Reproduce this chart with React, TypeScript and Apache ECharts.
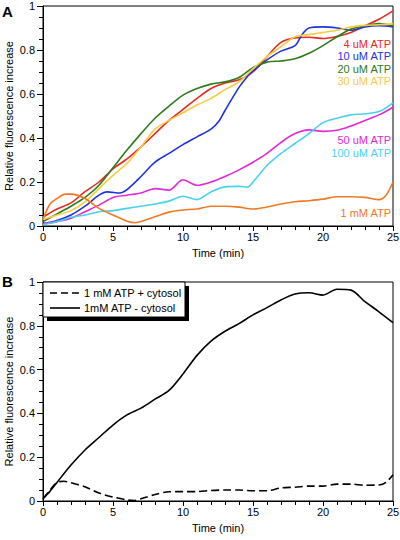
import React, { useEffect, useRef } from "react";
import * as echarts from "echarts";

// Panel A: relative fluorescence increase vs time (min)
const atp4uM: number[][] = [[0,0.04],[1,0.077],[2,0.105],[3,0.156],[4,0.2],[5,0.26],[6,0.305],[7,0.36],[8,0.42],[9,0.48],[10,0.53],[11,0.58],[12,0.625],[13,0.65],[14,0.665],[15,0.7],[16,0.77],[17,0.835],[18,0.855],[19,0.858],[20,0.852],[21,0.862],[22,0.88],[23,0.91],[24,0.94],[25,0.978]];
const atp10uM: number[][] = [[0,0.01],[1,0.025],[2,0.05],[3,0.09],[4,0.14],[4.6,0.155],[5.5,0.15],[6,0.165],[7,0.225],[8,0.29],[9,0.33],[10,0.37],[11,0.405],[12,0.44],[12.6,0.48],[13,0.525],[14,0.63],[14.6,0.68],[15,0.705],[16,0.755],[17,0.795],[18,0.82],[18.5,0.87],[19,0.9],[20,0.905],[21,0.9],[22,0.89],[23,0.905],[24,0.91],[25,0.905]];
const atp20uM: number[][] = [[0,0.02],[1,0.055],[2,0.09],[3,0.13],[4,0.185],[5,0.265],[6,0.345],[7,0.42],[8,0.49],[9,0.545],[10,0.595],[11,0.625],[12,0.645],[13,0.655],[14,0.675],[15,0.72],[16,0.745],[17,0.75],[18,0.76],[19,0.785],[20,0.82],[21,0.86],[22,0.895],[23,0.91],[24,0.92],[25,0.91]];
const atp30uM: number[][] = [[0,0.03],[1,0.05],[2,0.07],[3,0.11],[4,0.17],[5,0.23],[6,0.285],[7,0.36],[8,0.44],[9,0.48],[10,0.515],[11,0.55],[12,0.58],[13,0.62],[14,0.655],[15,0.715],[16,0.77],[17,0.815],[18,0.86],[19,0.87],[20,0.88],[21,0.89],[22,0.905],[23,0.912],[24,0.915],[25,0.92]];
const atp50uM: number[][] = [[0,0.01],[1,0.02],[2,0.035],[3,0.065],[4,0.095],[5,0.13],[6,0.14],[7,0.15],[8,0.17],[9,0.163],[10,0.21],[11,0.185],[12,0.2],[13,0.225],[14,0.255],[15,0.29],[16,0.33],[17,0.38],[18,0.42],[19,0.437],[20,0.43],[21,0.435],[22,0.455],[23,0.48],[24,0.505],[25,0.54]];
const atp100uM: number[][] = [[0,0.005],[1,0.02],[2,0.04],[3,0.05],[4,0.065],[5,0.07],[6,0.08],[7,0.09],[8,0.1],[9,0.113],[10,0.135],[11,0.12],[12,0.155],[13,0.178],[14,0.18],[14.6,0.177],[15,0.2],[16,0.275],[17,0.33],[18,0.375],[19,0.42],[20,0.47],[21,0.49],[22,0.505],[23,0.51],[24,0.52],[25,0.56]];
const atp1mM: number[][] = [[0,0.03],[0.5,0.1],[1,0.125],[1.6,0.145],[2,0.145],[3,0.125],[4,0.08],[5,0.05],[6,0.022],[6.6,0.015],[7,0.02],[8,0.042],[9,0.063],[10,0.073],[11,0.077],[12,0.09],[13,0.09],[14,0.086],[15,0.077],[16,0.086],[17,0.1],[18,0.11],[19,0.115],[20,0.122],[21,0.133],[22,0.133],[23,0.13],[24,0.12],[24.5,0.14],[25,0.2]];

// Panel B
const plusCytosol: number[][] = [[0,0.01],[0.5,0.05],[1,0.085],[1.5,0.09],[2,0.083],[3,0.065],[4,0.036],[5,0.018],[6,0.005],[6.5,0.002],[7,0.01],[8,0.03],[9,0.042],[10,0.043],[11,0.043],[12,0.048],[13,0.05],[14,0.05],[15,0.047],[16,0.047],[17,0.06],[18,0.063],[19,0.068],[20,0.068],[21,0.077],[22,0.077],[23,0.072],[24,0.073],[24.5,0.085],[25,0.12]];
const minusCytosol: number[][] = [[0,0.01],[0.5,0.045],[1,0.085],[2,0.164],[3,0.233],[4,0.29],[5,0.347],[6,0.393],[7,0.424],[8,0.465],[9,0.505],[10,0.58],[11,0.665],[12,0.73],[13,0.775],[14,0.81],[15,0.85],[16,0.883],[17,0.918],[18,0.945],[19,0.951],[20,0.94],[21,0.967],[22,0.963],[23,0.91],[24,0.864],[25,0.814]];

const seriesNamesA = ["4 uM ATP", "10 uM ATP", "20 uM ATP", "30 uM ATP", "50 uM ATP", "100 uM ATP", "1 mM ATP"];
const seriesNamesB = ["1 mM ATP + cytosol", "1mM ATP - cytosol"];
const xTitle = "Time (min)";
const yTitle = "Relative fluorescence increase";

const FONT = '"Liberation Sans", Arial, Helvetica, sans-serif';
const colorsA = ["#e52b1f", "#1d34dc", "#2e7a1c", "#f6cb45", "#e02ad4", "#48d2f0", "#f07a24"];
const labelY = [44, 56, 69, 81, 140, 153, 213];

function makeXAxis(gridIndex: number) {
  return {
    type: "value" as const,
    gridIndex,
    min: 0,
    max: 25,
    interval: 5,
    name: xTitle,
    nameLocation: "middle" as const,
    nameGap: 21,
    nameMoveOverlap: false,
    nameTextStyle: { color: "#000", fontSize: 11, fontFamily: FONT },
    axisLine: { lineStyle: { color: "#000", width: 1 } },
    axisTick: { show: true, inside: false, length: 5, lineStyle: { color: "#000" } },
    minorTick: { show: true, splitNumber: 5, length: 4, lineStyle: { color: "#000" } },
    axisLabel: { color: "#000", fontSize: 11, fontFamily: FONT, margin: 5 },
    splitLine: { show: false },
  };
}

function makeYAxis(gridIndex: number) {
  return {
    type: "value" as const,
    gridIndex,
    min: 0,
    max: 1,
    interval: 0.2,
    name: yTitle,
    nameLocation: "middle" as const,
    nameGap: 29,
    nameMoveOverlap: false,
    nameTextStyle: { color: "#000", fontSize: 11, fontFamily: FONT },
    axisLine: { show: true, lineStyle: { color: "#000", width: 1 } },
    axisTick: { show: true, inside: false, length: 6, lineStyle: { color: "#000" } },
    minorTick: { show: true, splitNumber: 4, length: 4, lineStyle: { color: "#000" } },
    axisLabel: { color: "#000", fontSize: 11, fontFamily: FONT, margin: 8 },
    splitLine: { show: false },
  };
}

export default function App() {
  const ref = useRef<HTMLDivElement>(null);
  useEffect(() => {
    if (!ref.current) return;
    const chart = echarts.init(ref.current, undefined, { renderer: "svg" });
    const dataA = [atp4uM, atp10uM, atp20uM, atp30uM, atp50uM, atp100uM, atp1mM];
    const seriesA = dataA.map((d, i) => ({
      type: "line" as const,
      name: seriesNamesA[i],
      xAxisIndex: 0,
      yAxisIndex: 0,
      data: d,
      showSymbol: false,
      symbol: "none",
      smooth: 0.3,
      lineStyle: { color: colorsA[i], width: 1.6 },
      itemStyle: { color: colorsA[i] },
      z: 3,
    }));
    const seriesB = [
      {
        type: "line" as const,
        name: seriesNamesB[0],
        xAxisIndex: 1,
        yAxisIndex: 1,
        data: plusCytosol,
        symbol: "none",
        smooth: 0.3,
        lineStyle: { color: "#000", width: 1.6, type: [8, 4] as any },
        itemStyle: { color: "#000" },
      },
      {
        type: "line" as const,
        name: seriesNamesB[1],
        xAxisIndex: 1,
        yAxisIndex: 1,
        data: minusCytosol,
        symbol: "none",
        smooth: 0.3,
        lineStyle: { color: "#000", width: 1.6 },
        itemStyle: { color: "#000" },
      },
    ];
    const labelTexts = seriesNamesA.map((name, i) => ({
      type: "text" as const,
      x: 391,
      y: labelY[i],
      style: {
        text: name,
        fill: colorsA[i],
        font: `11px ${FONT}`,
        align: "right",
        verticalAlign: "middle",
      },
      z: 10,
    }));
    const legendRowsY = [293, 308];
    const legendItems = seriesNamesB.flatMap((name, i) => [
      {
        type: "line" as const,
        shape: { x1: 50, y1: legendRowsY[i], x2: 80, y2: legendRowsY[i] },
        style: { stroke: "#000", lineWidth: 1.6, lineDash: i === 0 ? [7, 4] : null },
        z: 22,
      },
      {
        type: "text" as const,
        x: 84,
        y: legendRowsY[i],
        style: { text: name, fill: "#000", font: `11px ${FONT}`, align: "left", verticalAlign: "middle" },
        z: 22,
      },
    ]);
    chart.setOption({
      animation: false,
      backgroundColor: "#fff",
      textStyle: { fontFamily: FONT },
      grid: [
        { left: 43, top: 6, width: 350, height: 220, show: true, borderColor: "#000", borderWidth: 1, backgroundColor: "transparent", outerBoundsMode: "none", containLabel: false },
        { left: 43, top: 282, width: 350, height: 219, show: true, borderColor: "#000", borderWidth: 1, backgroundColor: "transparent", outerBoundsMode: "none", containLabel: false },
      ],
      xAxis: [makeXAxis(0), makeXAxis(1)],
      yAxis: [makeYAxis(0), makeYAxis(1)],
      graphic: [
        { type: "rect", shape: { x: 47, y: 286, width: 142, height: 35 }, style: { fill: "#000" }, z: 20 },
        { type: "rect", shape: { x: 43, y: 282, width: 142, height: 35 }, style: { fill: "#fff", stroke: "#000", lineWidth: 1 }, z: 21 },
        ...legendItems,
        { type: "text", x: 2, y: 4, style: { text: "A", fill: "#000", font: `bold 15px ${FONT}` } },
        { type: "text", x: 2, y: 274, style: { text: "B", fill: "#000", font: `bold 15px ${FONT}` } },
        ...labelTexts,
      ],
      series: [...seriesA, ...seriesB],
    });
    return () => chart.dispose();
  }, []);
  return <div ref={ref} style={{ position: "absolute", left: 0, top: 0, width: 400, height: 540 }} />;
}
